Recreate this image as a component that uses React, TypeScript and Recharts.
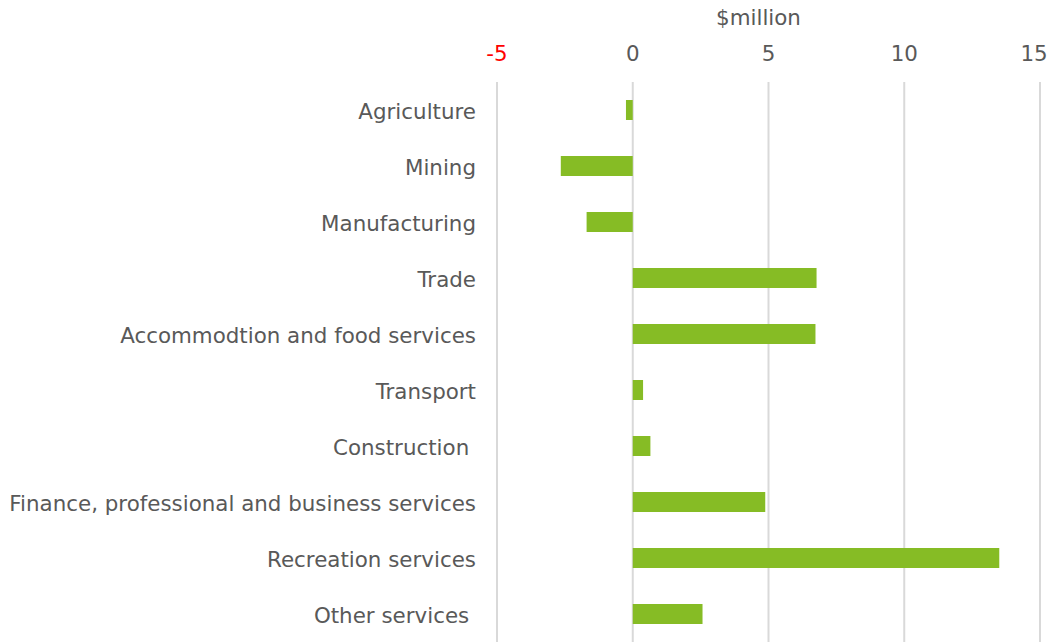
import { BarChart, Bar, XAxis, YAxis, CartesianGrid } from 'recharts';

const sectors = [
  'Agriculture',
  'Mining',
  'Manufacturing',
  'Trade',
  'Accommodtion and food services',
  'Transport',
  'Construction ',
  'Finance, professional and business services',
  'Recreation services',
  'Other services ',
];

const impact = [-0.25, -2.65, -1.7, 6.77, 6.73, 0.38, 0.65, 4.88, 13.5, 2.57];

const xTicks = [-5, 0, 5, 10, 15];

const chartData = sectors.map((name, i) => ({ name, value: impact[i] }));

const FONT = 'DejaVu Sans, Verdana, sans-serif';
const GREY = '#595959';

function TopTick({ x, y, payload, index }: any) {
  // last label is pulled in so it stays inside the frame, like the original
  const last = index === xTicks.length - 1;
  return (
    <text
      x={x}
      y={y}
      dx={last ? -6 : 0}
      textAnchor="middle"
      fontFamily={FONT}
      fontSize={21.4}
      fill={payload.value < 0 ? '#ff0000' : GREY}
    >
      {payload.value}
    </text>
  );
}

function SectorTick({ x, y, payload }: any) {
  return (
    <text
      x={x}
      y={y}
      dy="0.4em"
      textAnchor="end"
      fontFamily={FONT}
      fontSize={21.4}
      fill={GREY}
      style={{ whiteSpace: 'pre' }}
    >
      {payload.value}
    </text>
  );
}

export default function App() {
  return (
    <div style={{ position: 'absolute', top: 0, left: 0 }}>
      <BarChart
        width={1049}
        height={642}
        data={chartData}
        layout="vertical"
        margin={{ top: 0, right: 9, bottom: 0, left: 0 }}
        barSize={20}
      >
        <CartesianGrid horizontal={false} stroke="#d9d9d9" strokeWidth={2} />
        <XAxis
          type="number"
          orientation="top"
          domain={[-5, 15]}
          ticks={xTicks}
          height={82}
          axisLine={false}
          tickLine={false}
          tickSize={0}
          tickMargin={21}
          tick={<TopTick />}
          label={{
            value: '$million',
            position: 'insideTop',
            offset: 10,
            dx: -10,
            fill: GREY,
            fontSize: 21.4,
            fontFamily: FONT,
          }}
        />
        <YAxis
          type="category"
          dataKey="name"
          width={497}
          axisLine={false}
          tickLine={false}
          tickSize={0}
          tickMargin={21}
          interval={0}
          tick={<SectorTick />}
        />
        <Bar dataKey="value" fill="#86bc25" isAnimationActive={false} />
      </BarChart>
    </div>
  );
}
